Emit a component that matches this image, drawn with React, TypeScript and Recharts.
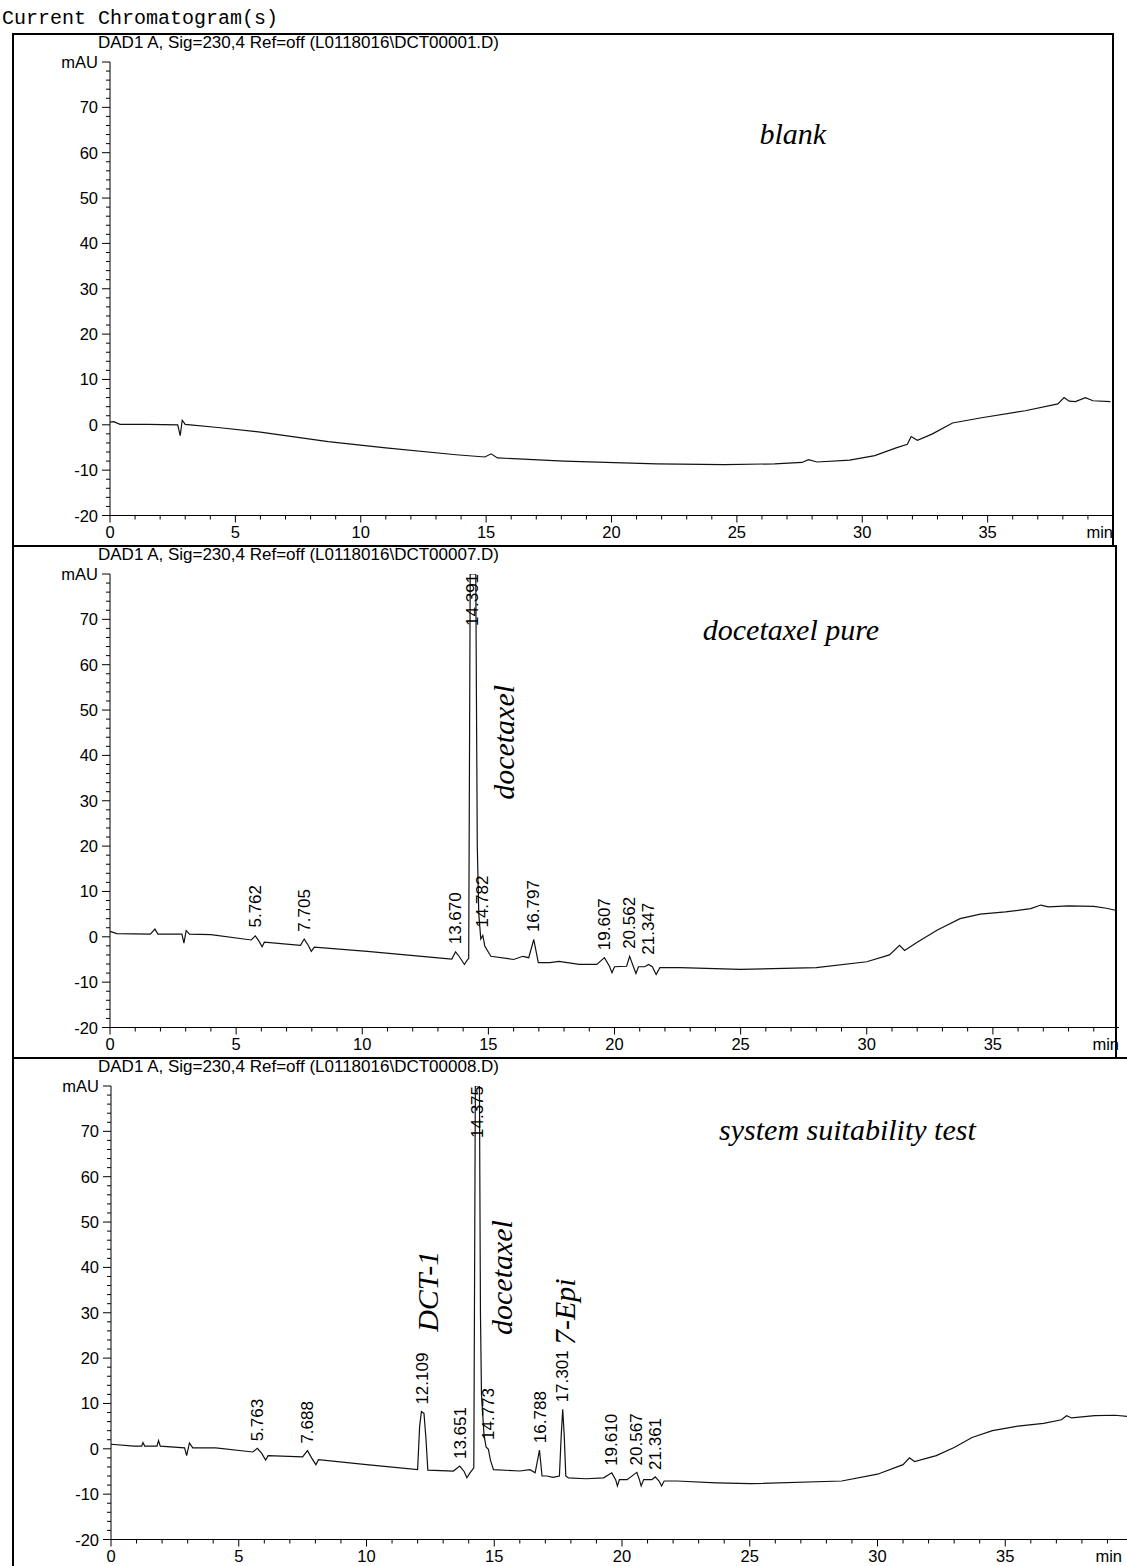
import React from 'react'
import { ComposedChart, Line, XAxis, YAxis, ReferenceDot } from 'recharts'

// retention time (min), signal (mAU)
const blankTrace: [number, number][] = [
  [0, 0.6], [0.15, 0.7], [0.4, 0.1], [1.5, 0.1], [2.7, 0.0], [2.8, -2.4], [2.88, 1.0], [3.0, 0.1],
  [4.3, -0.6], [6.0, -1.6], [8.7, -3.7], [11.0, -5.1], [13.8, -6.6], [14.95, -7.1], [15.2, -6.4],
  [15.45, -7.3], [18.1, -8.0], [21.8, -8.6], [24.5, -8.8], [26.5, -8.6], [27.6, -8.3], [27.85, -7.7],
  [28.2, -8.2], [29.5, -7.8], [30.5, -6.8], [31.35, -5.1], [31.8, -4.3], [31.95, -2.6], [32.2, -3.4],
  [32.8, -2.0], [33.6, 0.4], [34.7, 1.5], [36.5, 3.1], [37.8, 4.6], [38.05, 6.0], [38.25, 5.2],
  [38.5, 5.1], [38.9, 6.0], [39.2, 5.3], [39.9, 5.1],
]

const pureTrace: [number, number][] = [
  [0, 1.2], [0.27, 0.7], [1.6, 0.6], [1.78, 1.7], [1.9, 0.6], [2.85, 0.6], [2.93, -1.4], [3.02, 1.4],
  [3.15, 0.6], [4.0, 0.5], [5.6, -0.7], [5.76, 0.2], [5.9, -0.9], [6.03, -2.2], [6.12, -1.2],
  [7.55, -1.9], [7.7, -0.5], [7.85, -1.8], [7.98, -3.2], [8.1, -2.3], [10.2, -3.2], [12.9, -4.6],
  [13.55, -4.9], [13.7, -3.3], [13.85, -4.4], [14.05, -6.1], [14.15, -5.2], [14.22, -4.8],
  [14.28, 80], [14.5, 80], [14.56, 20], [14.62, 5], [14.7, -0.5], [14.78, 0.3], [14.86, -2.1],
  [15.1, -4.3], [16.0, -5.0], [16.37, -4.3], [16.6, -4.6], [16.8, -0.6], [16.98, -5.7], [17.44, -5.7],
  [17.8, -5.4], [18.6, -6.1], [19.3, -6.1], [19.6, -4.6], [19.8, -6.5], [19.9, -7.9], [20.0, -6.6],
  [20.48, -6.5], [20.6, -4.3], [20.75, -6.6], [20.85, -8.1], [20.95, -6.6], [21.2, -6.6], [21.35, -6.1],
  [21.5, -6.6], [21.65, -8.3], [21.8, -6.8], [22.6, -6.8], [25, -7.2], [28, -6.8], [30, -5.5],
  [30.9, -4.0], [31.3, -1.9], [31.5, -3.0], [32.0, -1.2], [32.8, 1.5], [33.7, 4.0], [34.5, 5.0],
  [35.5, 5.5], [36.5, 6.2], [36.9, 7.0], [37.2, 6.6], [38.0, 6.8], [39.0, 6.7], [39.5, 6.3], [39.9, 5.8],
]

const sstTrace: [number, number][] = [
  [0, 1.0], [0.9, 0.6], [1.2, 0.6], [1.25, 1.4], [1.32, 0.6], [1.8, 0.6], [1.86, 1.8], [1.93, 0.6],
  [2.88, 0.2], [2.96, -1.5], [3.07, 1.3], [3.2, 0.2], [4.1, 0.2], [5.55, -0.7], [5.73, 0.1],
  [5.9, -1.0], [6.05, -2.5], [6.15, -1.5], [7.5, -1.8], [7.69, -0.4], [7.85, -2.0], [8.02, -3.5],
  [8.12, -2.4], [10.0, -3.5], [12.0, -4.6], [12.08, 5.0], [12.15, 8.2], [12.25, 7.8], [12.33, 2.0],
  [12.4, -4.7], [13.4, -4.9], [13.65, -3.8], [13.82, -5.0], [13.93, -6.4], [14.05, -5.3], [14.2, -4.2],
  [14.26, 80], [14.42, 80], [14.46, 30], [14.5, 12], [14.6, 3], [14.68, 0.4], [14.77, -0.1],
  [14.85, -2.5], [14.97, -4.6], [16.0, -4.9], [16.4, -4.6], [16.6, -5.3], [16.77, -0.3], [16.87, -6.0],
  [17.06, -6.0], [17.3, -6.3], [17.55, -6.0], [17.62, 2.8], [17.68, 8.7], [17.74, 2.8], [17.8, -6.0],
  [17.9, -6.4], [18.6, -6.6], [19.28, -6.4], [19.6, -5.3], [19.75, -6.8], [19.82, -8.2], [19.9, -6.8],
  [20.2, -6.8], [20.58, -5.2], [20.68, -6.8], [20.75, -8.2], [20.85, -6.8], [21.17, -6.8], [21.3, -6.2],
  [21.45, -7.1], [21.55, -8.2], [21.65, -7.1], [22.15, -7.1], [23.7, -7.5], [25, -7.7], [28.6, -7.1],
  [30, -5.6], [31.0, -3.5], [31.25, -2.0], [31.45, -2.8], [32.3, -1.5], [33.0, 0.3], [33.7, 2.5],
  [34.5, 4.0], [35.5, 5.0], [36.5, 5.6], [37.2, 6.4], [37.4, 7.3], [37.6, 6.8], [38.5, 7.3],
  [39.3, 7.4], [40, 7.0],
]

// peak labels: time, peak height, printed retention time
const purePeaks: [number, number, string][] = [
  [5.762, 0.5, '5.762'], [7.705, -0.4, '7.705'], [13.7, -3.2, '13.670'], [14.39, 67, '14.391'],
  [14.78, 0.5, '14.782'], [16.8, -0.5, '16.797'], [19.6, -4.5, '19.607'], [20.6, -4.2, '20.562'],
  [21.35, -5.5, '21.347'],
]

const sstPeaks: [number, number, string][] = [
  [5.73, 0.1, '5.763'], [7.69, -0.4, '7.688'], [12.2, 8.2, '12.109'], [13.68, -3.8, '13.651'],
  [14.34, 67, '14.375'], [14.76, 0.4, '14.773'], [16.8, -0.3, '16.788'], [17.68, 8.7, '17.301'],
  [19.6, -5.3, '19.610'], [20.58, -5.2, '20.567'], [21.3, -6.2, '21.361'],
]

// handwritten notes: time, mAU, text, rotation
const blankNotes: [number, number, string, number][] = [[25.9, 62, 'blank', 0]]
const pureNotes: [number, number, string, number][] = [
  [23.5, 65.5, 'docetaxel pure', 0], [16.0, 30.2, 'docetaxel', -90],
]
const sstNotes: [number, number, string, number][] = [
  [23.8, 68.2, 'system suitability test', 0], [12.8, 25.8, 'DCT-1', -90],
  [15.7, 25.1, 'docetaxel', -90], [18.17, 22.9, '7-Epi', -90],
]

const titles = [
  'DAD1 A, Sig=230,4 Ref=off (L0118016\\DCT00001.D)',
  'DAD1 A, Sig=230,4 Ref=off (L0118016\\DCT00007.D)',
  'DAD1 A, Sig=230,4 Ref=off (L0118016\\DCT00008.D)',
]

const xTicks = Array.from({ length: 41 }, (_, i) => i)
const yTicks = Array.from({ length: 51 }, (_, i) => -20 + i * 2)

const SANS = "'Liberation Sans', Arial, sans-serif"
const HAND = "'Liberation Serif', serif"

const YTick = ({ x, y, payload }: any) => {
  const v = payload.value
  const major = v % 10 === 0
  return (
    <g>
      <line x1={x - (major ? 8 : 4)} x2={x} y1={y} y2={y} stroke="#000" />
      {major && (
        <text x={x - 12} y={y} textAnchor="end" dominantBaseline="central" fontSize={16.5} fontFamily={SANS} fill="#000">
          {v === 80 ? 'mAU' : v}
        </text>
      )}
    </g>
  )
}

const makeXTick = (maxX: number) => ({ x, y, payload }: any) => {
  const v = payload.value
  const major = v % 5 === 0
  return (
    <g>
      {v < 40 && <line x1={x} x2={x} y1={y} y2={y + (major ? 7 : 4)} stroke="#000" />}
      {major && (
        <text x={Math.min(x, maxX)} y={y + 16} textAnchor={v === 40 ? 'end' : 'middle'} dominantBaseline="central"
          fontSize={16.5} fontFamily={SANS} fill="#000">
          {v === 40 ? 'min' : v}
        </text>
      )}
    </g>
  )
}

function Panel({ top, left, plotW, title, trace, peaks, notes }: any) {
  const data = trace.map(([t, v]: [number, number]) => ({ t, v }))
  const XTick = makeXTick(1110)
  return (
    <div style={{ position: 'absolute', left: 12, top, width: 1115, height: 512 }}>
      <div style={{ position: 'absolute', left: 86, top: 0, font: `17px ${SANS}`, whiteSpace: 'nowrap' }}>{title}</div>
      <ComposedChart width={left + 98 + plotW} height={512} data={data} margin={{ top: 29, right: 0, bottom: 0, left }}>
        <XAxis dataKey="t" type="number" domain={[0, 40]} ticks={xTicks} interval={0} height={29.5}
          tickSize={0} tickMargin={0} tickLine={false} axisLine={{ stroke: '#000' }} tick={<XTick />} />
        <YAxis type="number" domain={[-20, 80]} ticks={yTicks} interval={0} width={98} allowDataOverflow
          tickSize={0} tickMargin={0} tickLine={false} axisLine={{ stroke: '#000' }} tick={<YTick />} />
        <Line dataKey="v" type="linear" dot={false} stroke="#111" strokeWidth={1.2} isAnimationActive={false} />
        {peaks.map(([t, v, txt]: [number, number, string]) => (
          <ReferenceDot key={txt} x={t} y={v} r={0} ifOverflow="visible"
            shape={(p: any) => (
              <text x={p.cx} y={p.cy - 7} transform={`rotate(-90 ${p.cx} ${p.cy - 7})`} textAnchor="start"
                dominantBaseline="central" fontSize={17} fontFamily={SANS} fill="#000">{txt}</text>
            )} />
        ))}
        {notes.map(([t, v, txt, rot]: [number, number, string, number]) => (
          <ReferenceDot key={txt + t} x={t} y={v} r={0} ifOverflow="visible"
            shape={(p: any) => (
              <text x={p.cx} y={p.cy} transform={rot ? `rotate(${rot} ${p.cx} ${p.cy})` : undefined}
                fontSize={30} fontStyle="italic" fontFamily={HAND} fill="#000">{txt}</text>
            )} />
        ))}
      </ComposedChart>
    </div>
  )
}

export default function App() {
  const line = (l: number, t: number, w: number, h: number) => (
    <div style={{ position: 'absolute', left: l, top: t, width: w, height: h, background: '#000' }} />
  )
  return (
    <div style={{ position: 'absolute', left: 0, top: 0, width: 1127, height: 1566, overflow: 'hidden', background: '#fff' }}>
      <div style={{ position: 'absolute', left: 2, top: 7, font: "20px 'Liberation Mono', monospace", whiteSpace: 'nowrap' }}>
        Current Chromatogram(s)
      </div>
      <Panel top={33} left={0} plotW={1003} title={titles[0]} trace={blankTrace} peaks={[]} notes={blankNotes} />
      <Panel top={545} left={0} plotW={1009} title={titles[1]} trace={pureTrace} peaks={purePeaks} notes={pureNotes} />
      <Panel top={1057} left={1} plotW={1022} title={titles[2]} trace={sstTrace} peaks={sstPeaks} notes={sstNotes} />
      {line(12, 33, 1101, 1.5)}
      {line(12, 33, 1.5, 1533)}
      {line(1112, 33, 1.5, 512)}
      {line(1115, 545, 1.5, 512)}
      {line(12, 545, 1105, 1.5)}
      {line(12, 1057, 1115, 1.5)}
    </div>
  )
}
